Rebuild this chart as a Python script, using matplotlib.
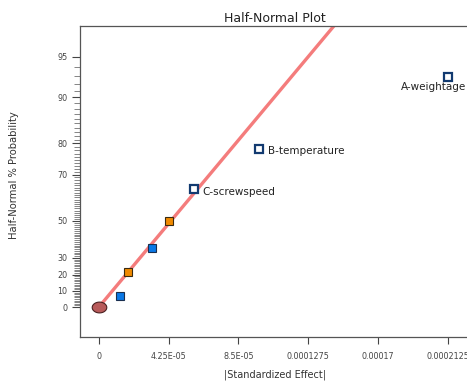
import numpy as np
import matplotlib.pyplot as plt
from matplotlib.path import Path
from statistics import NormalDist

# Data
effect_names = ["", "", "", "", "C-screwspeed", "B-temperature", "A-weightage"]
effect_size = [1.29e-5, 1.76e-5, 3.26e-5, 4.27e-5, 5.77e-5, 9.78e-5, 2.127e-4]
effect_prob = [7.14, 21.43, 35.71, 50.0, 64.29, 78.57, 92.86]  # half-normal %
effect_kind = ["error-", "error+", "error-", "error+", "term", "term", "term"]

line_x = [0.0, 1.5e-4]
line_prob = [0.0, 97.9]

y_ticks = [0, 10, 20, 30, 50, 70, 80, 90, 95]
x_ticks = [0, 4.25e-05, 8.5e-05, 0.0001275, 0.00017, 0.0002125]
x_tick_labels = ["0", "4.25E-05", "8.5E-05", "0.0001275", "0.00017", "0.0002125"]

nd = NormalDist()


def hn(p):
    # half-normal probability scale
    p = np.atleast_1d(np.asarray(p, dtype=float))
    return np.array([nd.inv_cdf(0.5 + v / 200.0) if v < 100 else 4.0 for v in p])


fills = {"error-": "#0a78e6", "error+": "#f08a00", "term": "white"}
edges = {"error-": "#1a2f4f", "error+": "#3a2a10", "term": "#123a70"}

fig = plt.figure(figsize=(4.67, 3.81), dpi=100)
ax = fig.add_axes([80 / 467, 1 - 337 / 381, 390 / 467, 311 / 381])

ax.plot(line_x, hn(line_prob), color="#f47c7c", lw=2.4, solid_capstyle="butt", zorder=2)

for xv, pv, kind in zip(effect_size, effect_prob, effect_kind):
    ax.plot(xv, hn(pv)[0], marker="s", ms=5.6, mfc=fills[kind], mec=edges[kind],
            mew=1.6 if kind == "term" else 0.8, ls="none", zorder=3)

# origin point (ellipse marker)
t = np.linspace(0, 2 * np.pi, 60)
ell = Path(np.column_stack([1.35 * np.cos(t), np.sin(t)]), closed=True)
ax.plot(0, 0, marker=ell, ms=10.5, mfc="#b85a5a", mec="#4a2020", mew=0.8, zorder=4)

# labels
lab = dict(textcoords="offset points", fontsize=7.5, color="#222222", va="center")
ax.annotate(effect_names[4], (effect_size[4], hn(effect_prob[4])[0]), xytext=(6, -2), **lab)
ax.annotate(effect_names[5], (effect_size[5], hn(effect_prob[5])[0]), xytext=(6, -2), **lab)
ax.annotate(effect_names[6], (effect_size[6], hn(effect_prob[6])[0]), xytext=(-34, -7), **lab)

ax.set_xlim(-1.15e-5, 2.26e-4)
ax.set_ylim(-0.235, 2.202)

ax.set_yticks(hn(y_ticks))
ax.set_yticklabels([str(v) for v in y_ticks])
minor = [v for v in range(1, 95) if v not in y_ticks]
ax.set_yticks(hn(minor), minor=True)
ax.set_xticks(x_ticks)
ax.set_xticklabels(x_tick_labels)

ax.tick_params(axis="y", which="major", length=6, width=0.8, labelsize=5.8,
               colors="#444444", pad=3)
ax.tick_params(axis="y", which="minor", length=4, width=0.5, color="#555555")
ax.tick_params(axis="x", length=5, width=0.8, labelsize=5.8, colors="#444444", pad=6)

for s in ["left", "bottom", "top"]:
    ax.spines[s].set_color("#555555")
    ax.spines[s].set_linewidth(0.9)
ax.spines["right"].set_visible(False)

ax.set_title("Half-Normal Plot", fontsize=9, color="#222222", pad=3)
ax.set_xlabel("|Standardized Effect|", fontsize=7, color="#333333", labelpad=6)
fig.text(14 / 467, 1 - 175 / 381, "Half-Normal % Probability", rotation=90, fontsize=7.2,
         color="#333333", ha="center", va="center")

fig.savefig("out.png", dpi=100)
